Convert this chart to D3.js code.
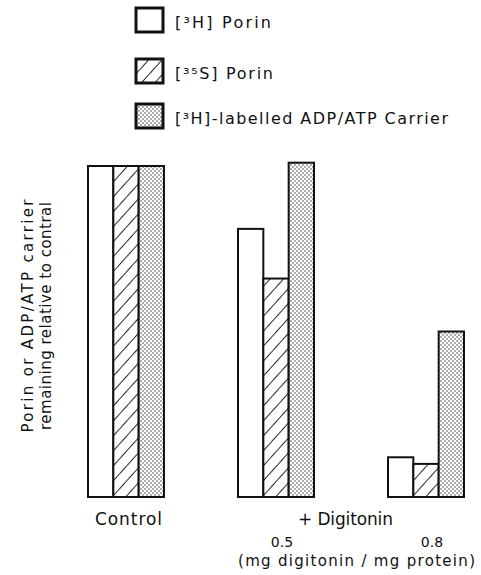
<!DOCTYPE html>
<meta charset="utf-8">
<script src="https://d3js.org/d3.v7.min.js"></script>
<style>
	body{
		margin:0;
		background:#fff;
		font-family: 'DejaVu Sans', sans-serif;
	}
	text{
		fill:#111;
	}
</style>
<div id="chart"></div>

<script>
	// groups along the bottom and the three series
	var groups = ["Control", "0.5", "0.8"]
	var seriesNames = ["[³H] Porin", "[³⁵S] Porin", "[³H]-labelled ADP/ATP Carrier"]
	var seriesKeys = ["h3Porin", "s35Porin", "adpCarrier"]

	// fraction remaining relative to control
	var h3Porin = [1.00, 0.81, 0.12]
	var s35Porin = [1.00, 0.66, 0.10]
	var adpCarrier = [1.00, 1.01, 0.50]

	var yLabel = ["Porin or ADP/ATP carrier", "remaining relative to contral"]

	var w = 481
	var h = 575

	var svg = d3.select("#chart").append("svg").attr("width",w).attr("height",h)

	// fill patterns: plain, hatched, stippled
	var defs = svg.append("defs")
	var hatch = defs.append("pattern").attr("id","hatch")
		.attr("patternUnits","userSpaceOnUse")
		.attr("width",10).attr("height",10)
		.attr("patternTransform","rotate(-48)")
	hatch.append("rect").attr("width",10).attr("height",10).attr("fill","#fff")
	hatch.append("line").attr("x1",0).attr("y1",0).attr("x2",10).attr("y2",0)
		.attr("stroke","#111").attr("stroke-width",1.8)

	var dots = defs.append("pattern").attr("id","dots")
		.attr("patternUnits","userSpaceOnUse")
		.attr("width",4).attr("height",4)
	dots.append("rect").attr("width",4).attr("height",4).attr("fill","#fff")
	dots.append("circle").attr("cx",1).attr("cy",1).attr("r",0.75).attr("fill","#333")
	dots.append("circle").attr("cx",3).attr("cy",3).attr("r",0.75).attr("fill","#333")

	var fills = {h3Porin:"#fff", s35Porin:"url(#hatch)", adpCarrier:"url(#dots)"}

	// table for the bars
	var table = groups.map(function(g,i){
		return {group:g, h3Porin:h3Porin[i], s35Porin:s35Porin[i], adpCarrier:adpCarrier[i]}
	})

	var x0 = d3.scaleBand().domain(groups).range([88,464]).paddingInner(0.4933).paddingOuter(0)
	var x1 = d3.scaleBand().domain(seriesKeys).range([0,x0.bandwidth()]).padding(0)
	var y = d3.scaleLinear().domain([0,1]).range([497,166])

	svg.append("g")
		.selectAll("g")
		.data(table)
		.join("g")
		.attr("transform",function(d){ return "translate("+x0(d.group)+",0)" })
		.selectAll("rect")
		.data(function(d){ return seriesKeys.map(function(k){ return {key:k, value:d[k]} }) })
		.join("rect")
		.attr("x",function(d){ return x1(d.key) })
		.attr("y",function(d){ return y(d.value) })
		.attr("width",x1.bandwidth())
		.attr("height",function(d){ return y(0)-y(d.value) })
		.attr("fill",function(d){ return fills[d.key] })
		.attr("stroke","#111")
		.attr("stroke-width",2)

	// stretches a label to the width it has in the original
	function fit(sel,len){
		sel.attr("textLength",len).attr("lengthAdjust","spacing")
		return sel
	}

	// legend
	var legend = svg.append("g")
	var legendY = [8, 59, 104]
	var legendLen = [96, 98, 273]
	seriesKeys.forEach(function(k,i){
		legend.append("rect").attr("x",136).attr("y",legendY[i]).attr("width",27).attr("height",24)
			.attr("fill",fills[k]).attr("stroke","#111").attr("stroke-width",3)
		fit(legend.append("text").attr("x",175).attr("y",legendY[i]+20)
			.style("font-size","16px")
			.text(seriesNames[i]), legendLen[i])
	})

	// y axis label, no ticks in the original
	var yLabelLen = [233, 228]
	yLabel.forEach(function(t,i){
		fit(svg.append("text")
			.attr("transform","translate("+(33+i*18)+",316) rotate(-90)")
			.attr("x",-yLabelLen[i]/2)
			.style("font-size","15px")
			.text(t), yLabelLen[i])
	})

	// bottom labels
	fit(svg.append("text").attr("x",95).attr("y",525)
		.style("font-size","17px")
		.text("Control"), 67)
	fit(svg.append("text").attr("x",298).attr("y",525)
		.style("font-size","17px")
		.text("+ Digitonin"), 95)
	;["0.5","0.8"].forEach(function(g){
		svg.append("text").attr("x",x0(g)+x0.bandwidth()/2+6).attr("y",547)
			.attr("text-anchor","middle").style("font-size","14px")
			.text(g)
	})
	fit(svg.append("text").attr("x",238).attr("y",566)
		.style("font-size","15px")
		.text("(mg digitonin / mg protein)"), 237)
</script>
